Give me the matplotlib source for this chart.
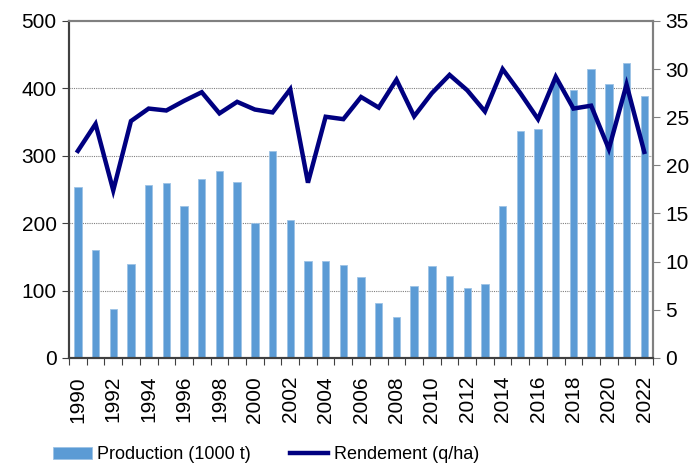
import matplotlib.pyplot as plt
import numpy as np

years = list(range(1990, 2023))
production = [254, 160, 73, 139, 257, 259, 226, 266, 277, 261, 200, 307, 205,
              144, 144, 138, 120, 82, 61, 107, 136, 121, 103, 109, 226, 336,
              340, 411, 397, 428, 406, 438, 388]
rendement = [21.5, 24.3, 17.4, 24.6, 25.9, 25.7, 26.7, 27.6, 25.4, 26.6, 25.8,
             25.5, 27.9, 18.2, 25.05, 24.8, 27.1, 26.0, 28.9, 25.1, 27.5, 29.4,
             27.8, 25.6, 30.0, 27.5, 24.8, 29.2, 25.9, 26.2, 21.7, 28.4, 21.4]

plt.rcParams["font.family"] = ["Liberation Sans", "DejaVu Sans"]
plt.rcParams["font.size"] = 15

fig = plt.figure(figsize=(6.97, 4.66), dpi=100)
ax = fig.add_axes([0.099, 0.232, 0.838, 0.723])
ax2 = ax.twinx()

x = np.arange(len(years))
ax.bar(x, production, width=0.42, color="#5B9BD5", edgecolor="#9DC3E6",
       linewidth=0.6, label="Production (1000 t)", zorder=2)
ax2.plot(x, rendement, color="#000080", linewidth=3.2, solid_joinstyle="miter",
         label="Rendement (q/ha)", zorder=3)

ax.set_xlim(-0.5, len(years) - 0.5)
ax.set_ylim(0, 500)
ax2.set_ylim(0, 35)
ax.set_yticks(range(0, 501, 100))
ax2.set_yticks(range(0, 36, 5))

for v in range(100, 500, 100):
    ax.axhline(v, color="#808080", linestyle=(0, (1, 1)), linewidth=0.8, zorder=1)

# tick marks between categories, labels every two years
ax.set_xticks(np.arange(-0.5, len(years), 1.0))
ax.set_xticklabels([])
ax.tick_params(axis="x", which="major", length=5, color="#404040")
ax.set_xticks(x[::2], minor=True)
ax.set_xticklabels([str(y) for y in years[::2]], minor=True, rotation=90)
ax.tick_params(axis="x", which="minor", length=0, pad=13)

ax.tick_params(axis="y", length=5, color="#404040", pad=4)
ax2.tick_params(axis="y", length=5, color="#808080", pad=4)

ax.spines["left"].set_color("#404040")
ax.spines["bottom"].set_color("#404040")
ax.spines["top"].set_color("#808080")
ax.spines["right"].set_color("#808080")
ax2.spines["left"].set_color("#404040")
ax2.spines["top"].set_color("#808080")
ax2.spines["right"].set_color("#808080")
ax2.spines["bottom"].set_color("#404040")
for sp in list(ax.spines.values()) + list(ax2.spines.values()):
    sp.set_linewidth(1.5)

h1, l1 = ax.get_legend_handles_labels()
h2, l2 = ax2.get_legend_handles_labels()
fig.legend(h1 + h2, l1 + l2, loc="center left", bbox_to_anchor=(0.053, 0.024),
           ncol=2, frameon=False, handlelength=2.15, handletextpad=0.28,
           columnspacing=2.15, fontsize=13)

fig.savefig("out.png", dpi=100)
